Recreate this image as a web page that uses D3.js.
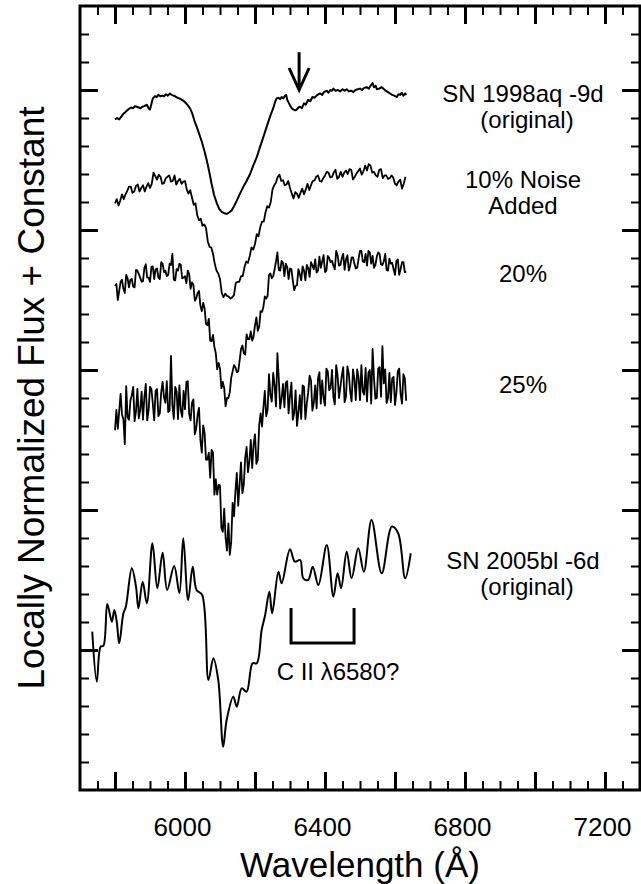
<!DOCTYPE html>
<html><head><meta charset="utf-8">
<script src="https://cdn.jsdelivr.net/npm/d3@7"></script>
<style>
body{margin:0;background:#fff}
text{font-family:"Liberation Sans",Arial,Helvetica,sans-serif;fill:#000}
</style>
</head><body>
<svg id="chart" width="641" height="884"></svg>
<script>
// ---------------- DATA ----------------
const xDomain = [5700, 7300];
const yDomain = [0, 5.6];
const xMajorTicks = [5800, 6000, 6200, 6400, 6600, 6800, 7000, 7200];
const xTickLabels = [6000, 6400, 6800, 7200];
const yMajorTicks = [1, 2, 3, 4, 5];

// Locally normalized flux + constant, [wavelength (Å), value]
const sn1998aq = [[5800,4.79],[5806,4.80],[5812,4.79],[5818,4.81],[5824,4.83],[5829,4.84],[5835,4.855],[5840,4.865],[5846,4.875],[5852,4.87],[5857,4.885],[5862,4.88],[5868,4.875],[5873,4.87],[5878,4.88],[5884,4.885],[5891,4.895],[5896,4.87],[5900,4.86],[5904,4.90],[5908,4.94],[5914,4.955],[5919,4.95],[5924,4.965],[5930,4.955],[5935,4.96],[5940,4.955],[5946,4.97],[5951,4.96],[5957,4.975],[5962,4.965],[5967,4.96],[5972,4.955],[5978,4.945],[5984,4.94],[5991,4.93],[5997,4.92],[6003,4.905],[6010,4.885],[6016,4.86],[6021,4.83],[6027,4.78],[6033,4.74],[6040,4.69],[6048,4.63],[6055,4.57],[6062,4.50],[6069,4.42],[6076,4.33],[6083,4.25],[6091,4.19],[6098,4.15],[6105,4.13],[6112,4.12],[6119,4.115],[6126,4.125],[6133,4.14],[6140,4.17],[6148,4.21],[6157,4.26],[6167,4.31],[6176,4.35],[6186,4.40],[6195,4.46],[6205,4.52],[6214,4.59],[6224,4.665],[6233,4.735],[6243,4.81],[6252,4.87],[6258,4.92],[6262,4.94],[6267,4.945],[6272,4.935],[6276,4.95],[6281,4.94],[6286,4.96],[6289,4.965],[6292,4.93],[6295,4.915],[6300,4.89],[6305,4.87],[6310,4.86],[6315,4.855],[6319,4.86],[6324,4.875],[6329,4.88],[6334,4.87],[6340,4.905],[6345,4.895],[6352,4.93],[6358,4.92],[6364,4.95],[6370,4.945],[6376,4.96],[6381,4.97],[6386,4.975],[6392,4.965],[6397,4.985],[6405,4.995],[6410,4.98],[6415,5.00],[6420,4.995],[6424,5.01],[6430,4.995],[6437,5.0],[6443,4.99],[6450,5.005],[6456,4.995],[6462,5.005],[6468,4.99],[6475,4.995],[6481,4.985],[6487,5.00],[6494,5.005],[6500,5.01],[6506,5.0],[6512,5.015],[6519,5.02],[6525,5.01],[6530,5.03],[6536,5.05],[6540,5.02],[6545,5.03],[6548,5.005],[6555,5.01],[6561,5.02],[6567,5.01],[6573,4.995],[6580,4.985],[6586,4.975],[6592,4.965],[6598,4.96],[6605,4.95],[6610,4.97],[6615,4.965],[6619,4.98],[6624,4.96],[6629,4.975],[6633,4.965]];

const noise10 = [[5800,4.19],[5805,4.22],[5810,4.175],[5815,4.21],[5820,4.255],[5825,4.22],[5830,4.255],[5835,4.28],[5840,4.31],[5845,4.31],[5850,4.265],[5855,4.275],[5860,4.315],[5865,4.325],[5870,4.275],[5875,4.30],[5880,4.32],[5885,4.275],[5890,4.31],[5895,4.335],[5900,4.30],[5905,4.33],[5910,4.41],[5915,4.385],[5920,4.36],[5925,4.395],[5930,4.38],[5935,4.33],[5940,4.335],[5945,4.37],[5950,4.38],[5955,4.39],[5960,4.345],[5965,4.35],[5970,4.39],[5975,4.325],[5980,4.35],[5985,4.365],[5990,4.33],[5995,4.345],[6000,4.35],[6005,4.29],[6010,4.26],[6015,4.285],[6020,4.23],[6025,4.18],[6030,4.19],[6035,4.105],[6040,4.07],[6045,4.08],[6050,4.03],[6055,4.04],[6060,4.015],[6065,3.92],[6070,3.88],[6075,3.875],[6080,3.83],[6085,3.76],[6090,3.71],[6095,3.69],[6100,3.65],[6105,3.55],[6110,3.52],[6115,3.545],[6120,3.53],[6125,3.525],[6130,3.51],[6135,3.52],[6140,3.535],[6145,3.62],[6150,3.63],[6155,3.63],[6160,3.67],[6165,3.67],[6170,3.735],[6175,3.775],[6180,3.765],[6185,3.815],[6190,3.875],[6195,3.86],[6200,3.90],[6205,3.97],[6210,3.955],[6215,4.02],[6220,4.06],[6225,4.06],[6230,4.125],[6235,4.17],[6240,4.16],[6245,4.20],[6250,4.29],[6255,4.32],[6260,4.34],[6265,4.38],[6270,4.395],[6275,4.35],[6280,4.355],[6285,4.32],[6290,4.325],[6295,4.35],[6300,4.30],[6305,4.26],[6310,4.225],[6315,4.27],[6320,4.26],[6325,4.23],[6330,4.265],[6335,4.295],[6340,4.255],[6345,4.29],[6350,4.33],[6355,4.285],[6360,4.32],[6365,4.35],[6370,4.355],[6375,4.38],[6380,4.39],[6385,4.35],[6390,4.345],[6395,4.37],[6400,4.39],[6405,4.415],[6410,4.41],[6415,4.375],[6420,4.38],[6425,4.41],[6430,4.43],[6435,4.365],[6440,4.38],[6445,4.415],[6450,4.38],[6455,4.41],[6460,4.425],[6465,4.40],[6470,4.435],[6475,4.43],[6480,4.36],[6485,4.38],[6490,4.405],[6495,4.42],[6500,4.44],[6505,4.395],[6510,4.42],[6515,4.46],[6520,4.425],[6525,4.47],[6530,4.46],[6535,4.41],[6540,4.415],[6545,4.39],[6550,4.38],[6555,4.43],[6560,4.435],[6565,4.37],[6570,4.39],[6575,4.39],[6580,4.365],[6585,4.37],[6590,4.39],[6595,4.375],[6600,4.33],[6605,4.32],[6610,4.345],[6615,4.36],[6620,4.295],[6625,4.33],[6630,4.38]];

const noise20 = [[5800,3.60],[5804,3.615],[5808,3.50],[5812,3.565],[5816,3.63],[5820,3.645],[5824,3.58],[5828,3.55],[5832,3.68],[5836,3.655],[5840,3.59],[5844,3.645],[5848,3.65],[5852,3.595],[5856,3.59],[5860,3.715],[5864,3.71],[5868,3.685],[5872,3.66],[5876,3.63],[5880,3.635],[5884,3.73],[5888,3.755],[5892,3.66],[5896,3.66],[5900,3.63],[5904,3.735],[5908,3.74],[5912,3.65],[5916,3.72],[5920,3.725],[5924,3.66],[5928,3.65],[5932,3.77],[5936,3.76],[5940,3.70],[5944,3.71],[5948,3.67],[5952,3.68],[5956,3.76],[5960,3.75],[5964,3.83],[5968,3.645],[5972,3.64],[5976,3.72],[5980,3.71],[5984,3.76],[5988,3.75],[5992,3.655],[5996,3.66],[6000,3.67],[6004,3.62],[6008,3.71],[6012,3.685],[6016,3.58],[6020,3.625],[6024,3.61],[6028,3.495],[6032,3.51],[6036,3.55],[6040,3.565],[6044,3.46],[6048,3.42],[6052,3.48],[6056,3.44],[6060,3.33],[6064,3.32],[6068,3.365],[6072,3.21],[6076,3.205],[6080,3.25],[6084,3.165],[6088,3.12],[6092,3.005],[6096,3.05],[6100,3.01],[6104,2.87],[6108,2.915],[6112,2.87],[6116,2.74],[6120,2.80],[6124,2.80],[6128,2.84],[6132,2.945],[6136,2.99],[6140,3.035],[6144,3.02],[6148,2.985],[6152,2.99],[6156,3.065],[6160,3.15],[6164,3.175],[6168,3.12],[6172,3.11],[6176,3.255],[6180,3.22],[6184,3.22],[6188,3.275],[6192,3.21],[6196,3.24],[6200,3.32],[6204,3.375],[6208,3.28],[6212,3.31],[6216,3.42],[6220,3.415],[6224,3.45],[6228,3.525],[6232,3.51],[6236,3.53],[6240,3.68],[6244,3.69],[6248,3.655],[6252,3.67],[6256,3.72],[6260,3.775],[6264,3.84],[6268,3.715],[6272,3.71],[6276,3.78],[6280,3.765],[6284,3.67],[6288,3.76],[6292,3.735],[6296,3.65],[6300,3.725],[6304,3.72],[6308,3.64],[6312,3.57],[6316,3.60],[6320,3.605],[6324,3.72],[6328,3.685],[6332,3.64],[6336,3.74],[6340,3.71],[6344,3.64],[6348,3.75],[6352,3.73],[6356,3.665],[6360,3.77],[6364,3.745],[6368,3.72],[6372,3.79],[6376,3.695],[6380,3.71],[6384,3.81],[6388,3.73],[6392,3.775],[6396,3.82],[6400,3.70],[6404,3.71],[6408,3.815],[6412,3.80],[6416,3.77],[6420,3.78],[6424,3.745],[6428,3.72],[6432,3.85],[6436,3.82],[6440,3.745],[6444,3.75],[6448,3.80],[6452,3.83],[6456,3.715],[6460,3.79],[6464,3.82],[6468,3.71],[6472,3.745],[6476,3.805],[6480,3.805],[6484,3.76],[6488,3.725],[6492,3.73],[6496,3.795],[6500,3.85],[6504,3.85],[6508,3.775],[6512,3.77],[6516,3.83],[6520,3.745],[6524,3.85],[6528,3.84],[6532,3.76],[6536,3.815],[6540,3.73],[6544,3.75],[6548,3.81],[6552,3.84],[6556,3.83],[6560,3.755],[6564,3.75],[6568,3.775],[6572,3.83],[6576,3.715],[6580,3.71],[6584,3.795],[6588,3.76],[6592,3.765],[6596,3.72],[6600,3.68],[6604,3.78],[6608,3.79],[6612,3.68],[6616,3.72],[6620,3.77],[6624,3.77],[6628,3.70],[6632,3.70]];

const noise25 = [[5800,2.57],[5804,2.715],[5808,2.58],[5812,2.705],[5816,2.83],[5820,2.68],[5824,2.65],[5828,2.47],[5832,2.885],[5836,2.66],[5840,2.645],[5844,2.78],[5848,2.82],[5852,2.88],[5856,2.635],[5860,2.705],[5864,2.865],[5868,2.655],[5872,2.715],[5876,2.845],[5880,2.645],[5884,2.81],[5888,2.90],[5892,2.64],[5896,2.71],[5900,2.88],[5904,2.865],[5908,2.76],[5912,2.64],[5916,2.85],[5920,2.865],[5924,2.67],[5928,2.69],[5932,2.84],[5936,2.915],[5940,2.805],[5944,2.765],[5948,2.92],[5952,2.70],[5956,2.71],[5960,3.10],[5964,2.75],[5968,2.65],[5972,2.88],[5976,2.845],[5980,2.65],[5984,2.89],[5988,2.71],[5992,2.665],[5996,2.85],[6000,2.72],[6004,2.915],[6008,2.92],[6012,2.685],[6016,2.64],[6020,2.765],[6024,2.79],[6028,2.54],[6032,2.58],[6036,2.68],[6040,2.73],[6044,2.50],[6048,2.41],[6052,2.605],[6056,2.55],[6060,2.36],[6064,2.36],[6068,2.41],[6072,2.23],[6076,2.43],[6080,2.41],[6084,2.11],[6088,2.22],[6092,2.11],[6096,2.18],[6100,2.175],[6104,1.87],[6108,1.845],[6112,2.01],[6116,1.80],[6120,1.71],[6124,1.905],[6128,1.68],[6132,1.77],[6136,2.05],[6140,1.955],[6144,2.13],[6148,2.265],[6152,2.03],[6156,2.185],[6160,2.34],[6164,2.12],[6168,2.18],[6172,2.375],[6176,2.45],[6180,2.27],[6184,2.35],[6188,2.50],[6192,2.30],[6196,2.47],[6200,2.54],[6204,2.33],[6208,2.36],[6212,2.605],[6216,2.69],[6220,2.595],[6224,2.73],[6228,2.85],[6232,2.67],[6236,2.715],[6240,2.97],[6244,2.82],[6248,2.775],[6252,2.98],[6256,2.89],[6260,2.74],[6264,3.12],[6268,2.935],[6272,2.725],[6276,2.80],[6280,2.90],[6284,2.735],[6288,2.91],[6292,2.92],[6296,2.69],[6300,2.815],[6304,2.91],[6308,2.645],[6312,2.69],[6316,2.855],[6320,2.60],[6324,2.695],[6328,2.82],[6332,2.65],[6336,2.89],[6340,2.88],[6344,2.65],[6348,2.76],[6352,2.84],[6356,2.96],[6360,2.925],[6364,2.71],[6368,2.765],[6372,2.89],[6376,2.725],[6380,2.94],[6384,2.985],[6388,2.76],[6392,2.925],[6396,2.80],[6400,2.745],[6404,3.01],[6408,2.99],[6412,2.855],[6416,2.87],[6420,3.00],[6424,2.805],[6428,2.755],[6432,3.035],[6436,2.96],[6440,2.80],[6444,2.88],[6448,2.96],[6452,3.02],[6456,2.77],[6460,2.81],[6464,3.025],[6468,2.975],[6472,2.845],[6476,2.775],[6480,3.005],[6484,2.935],[6488,2.785],[6492,3.005],[6496,2.945],[6500,2.785],[6504,3.035],[6508,2.845],[6512,2.825],[6516,3.015],[6520,2.775],[6524,2.98],[6528,3.00],[6532,2.76],[6536,3.15],[6540,2.94],[6544,2.795],[6548,2.80],[6552,3.01],[6556,3.02],[6560,2.81],[6564,3.17],[6568,2.905],[6572,3.005],[6576,2.765],[6580,2.80],[6584,2.98],[6588,2.77],[6592,2.94],[6596,2.95],[6600,2.75],[6604,2.84],[6608,2.99],[6612,3.01],[6616,2.83],[6620,2.76],[6624,2.97],[6628,2.94],[6632,2.78]];

const sn2005bl = [[5735,1.131],[5748,0.774],[5759,1.024],[5767,1.031],[5778,1.329],[5791,1.202],[5798,1.286],[5805,1.202],[5812,1.048],[5824,1.262],[5831,1.309],[5848,1.584],[5860,1.452],[5867,1.298],[5879,1.488],[5891,1.334],[5907,1.762],[5921,1.441],[5936,1.695],[5949,1.429],[5969,1.60],[5984,1.405],[5995,1.798],[6009,1.357],[6022,1.595],[6033,1.429],[6049,1.393],[6067,0.786],[6081,0.941],[6095,0.786],[6109,0.309],[6119,0.50],[6138,0.666],[6148,0.595],[6162,0.726],[6176,0.702],[6193,0.905],[6205,0.905],[6219,1.143],[6229,1.25],[6241,1.416],[6249,1.262],[6267,1.559],[6276,1.476],[6300,1.719],[6314,1.631],[6329,1.643],[6338,1.512],[6352,1.50],[6365,1.595],[6381,1.464],[6405,1.75],[6424,1.381],[6436,1.548],[6446,1.441],[6462,1.702],[6476,1.512],[6495,1.726],[6511,1.559],[6533,1.929],[6562,1.548],[6591,1.881],[6609,1.834],[6629,1.512],[6645,1.691]];

const seriesLabelLines = [["SN 1998aq -9d","(original)"],["10% Noise","Added"],["20%"],["25%"],["SN 2005bl -6d","(original)"]];
const arrowMark = {lambda: 6326, from: 5.27, to: 5.0};
const bracketMark = {from: 6303, to: 6483, top: 1.30, bottom: 1.05, label: "C II λ6580?"};

// ---------------- LAYOUT ----------------
const plot = {left: 80, right: 640, top: 6, bottom: 790};
const svg = d3.select("#chart");
const x = d3.scaleLinear().domain(xDomain).range([plot.left, plot.right]);
const y = d3.scaleLinear().domain(yDomain).range([plot.bottom, plot.top]);

const xMinor = d3.range(xDomain[0] + 50, xDomain[1], 50).filter(v => !xMajorTicks.includes(v));
const yMinor = d3.range(0.2, 5.6, 0.2).map(v => +v.toFixed(1)).filter(v => !yMajorTicks.includes(v));

function axisGroup(axis, transform, width) {
  const g = svg.append("g").attr("transform", transform).call(axis);
  g.select(".domain").remove();
  g.selectAll(".tick line").attr("stroke", "#000").attr("stroke-width", width);
  return g;
}
// bottom
axisGroup(d3.axisBottom(x).tickValues(xMinor).tickSize(-9).tickSizeOuter(0).tickFormat(""), `translate(0,${plot.bottom})`, 2);
const gxb = axisGroup(d3.axisBottom(x).tickValues(xMajorTicks).tickSize(-18).tickSizeOuter(0).tickPadding(28)
  .tickFormat(d => xTickLabels.includes(d) ? d : ""), `translate(0,${plot.bottom})`, 3);
gxb.selectAll("text").attr("font-size", 26).attr("font-family", null).attr("dx", -3);
// top
axisGroup(d3.axisTop(x).tickValues(xMinor).tickSize(-9).tickSizeOuter(0).tickFormat(""), `translate(0,${plot.top})`, 2);
axisGroup(d3.axisTop(x).tickValues(xMajorTicks).tickSize(-18).tickSizeOuter(0).tickFormat(""), `translate(0,${plot.top})`, 3);
// left
axisGroup(d3.axisLeft(y).tickValues(yMinor).tickSize(-9).tickSizeOuter(0).tickFormat(""), `translate(${plot.left},0)`, 2);
axisGroup(d3.axisLeft(y).tickValues(yMajorTicks).tickSize(-18).tickSizeOuter(0).tickFormat(""), `translate(${plot.left},0)`, 3);
// right
axisGroup(d3.axisRight(y).tickValues(yMinor).tickSize(-9).tickSizeOuter(0).tickFormat(""), `translate(${plot.right},0)`, 2);
axisGroup(d3.axisRight(y).tickValues(yMajorTicks).tickSize(-18).tickSizeOuter(0).tickFormat(""), `translate(${plot.right},0)`, 3);

// frame
svg.append("rect").attr("x", plot.left).attr("y", plot.top)
  .attr("width", plot.right - plot.left).attr("height", plot.bottom - plot.top)
  .attr("fill", "none").attr("stroke", "#000").attr("stroke-width", 3);

// spectra
const line = d3.line().x(d => x(d[0])).y(d => y(d[1]));
const smooth = d3.line().x(d => x(d[0])).y(d => y(d[1])).curve(d3.curveCatmullRom.alpha(0.5));
const spectra = [
  {data: sn1998aq, gen: line, w: 2},
  {data: noise10, gen: line, w: 1.8},
  {data: noise20, gen: line, w: 1.8},
  {data: noise25, gen: line, w: 1.8},
  {data: sn2005bl, gen: smooth, w: 2}
];
svg.append("g").selectAll("path").data(spectra).join("path")
  .attr("d", s => s.gen(s.data)).attr("fill", "none").attr("stroke", "#000")
  .attr("stroke-width", s => s.w).attr("stroke-linejoin", "round");

// series labels
const labelBase = [101.7, 188, 281.7, 393, 569];
const labelX = 523;
seriesLabelLines.forEach((lines, i) => {
  lines.forEach((t, j) => {
    svg.append("text").attr("x", labelX + (t === "(original)" ? 4 : 0)).attr("y", labelBase[i] + j * 26)
      .attr("text-anchor", "middle").attr("font-size", 24).text(t);
  });
});

// arrow
const ax = x(arrowMark.lambda);
svg.append("line").attr("x1", ax).attr("x2", ax).attr("y1", y(arrowMark.from)).attr("y2", y(arrowMark.to) - 2)
  .attr("stroke", "#000").attr("stroke-width", 3);
svg.append("path").attr("d", `M${ax - 10},${y(arrowMark.to) - 22} L${ax},${y(arrowMark.to)} L${ax + 10},${y(arrowMark.to) - 22}`)
  .attr("fill", "none").attr("stroke", "#000").attr("stroke-width", 3);

// bracket
svg.append("path").attr("d", `M${x(bracketMark.from)},${y(bracketMark.top)} L${x(bracketMark.from)},${y(bracketMark.bottom)} L${x(bracketMark.to)},${y(bracketMark.bottom)} L${x(bracketMark.to)},${y(bracketMark.top)}`)
  .attr("fill", "none").attr("stroke", "#000").attr("stroke-width", 3);
svg.append("text").attr("x", 338).attr("y", 680)
  .attr("text-anchor", "middle").attr("font-size", 24).text(bracketMark.label);

// axis titles
svg.append("text").attr("x", 360).attr("y", 877)
  .attr("text-anchor", "middle").attr("font-size", 35).text("Wavelength (Å)");
svg.append("text").attr("transform", `translate(44,${(plot.top + plot.bottom) / 2}) rotate(-90)`)
  .attr("text-anchor", "middle").attr("font-size", 37).text("Locally Normalized Flux + Constant");
</script>
</body></html>
